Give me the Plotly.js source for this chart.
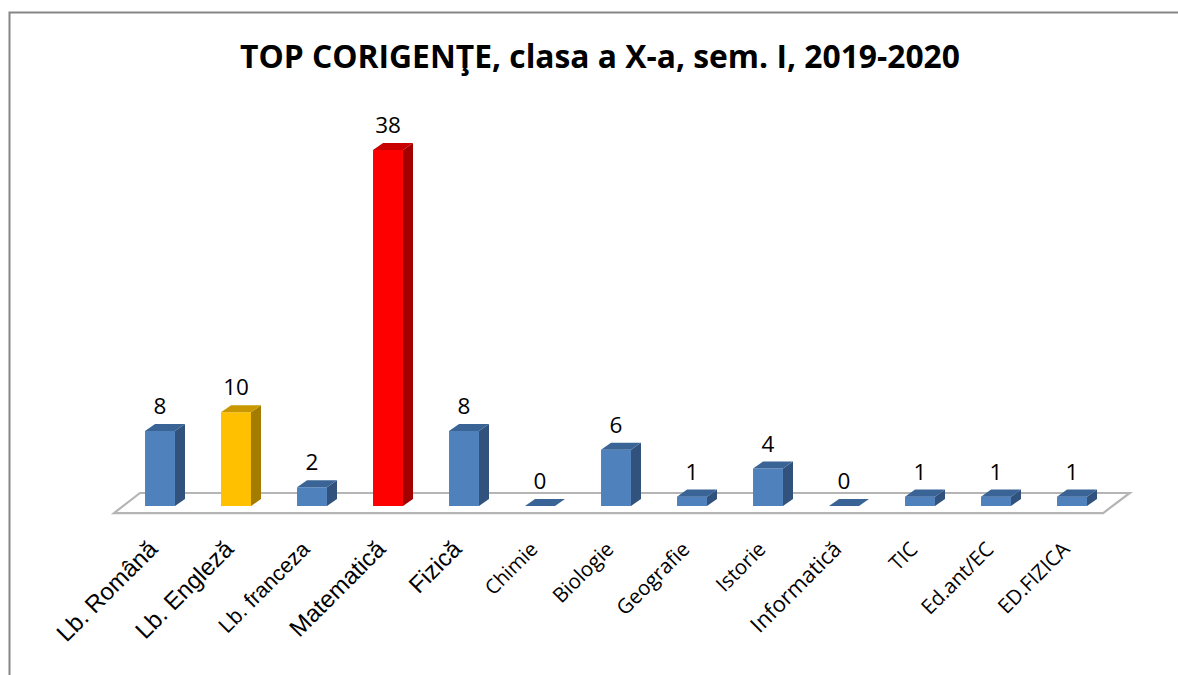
<!DOCTYPE html>
<html><head><meta charset="utf-8">
<script src="https://cdn.plot.ly/plotly-3.0.1.min.js"></script>
<style>html,body{margin:0;padding:0;background:#fff}#c{width:1178px;height:675px}</style>
</head><body><div id="c"></div>
<script>
const categories = ["Lb. Română","Lb. Engleză","Lb. franceza","Matematică","Fizică","Chimie","Biologie","Geografie","Istorie","Informatică","TIC","Ed.ant/EC","ED.FIZICA"];
const values = [8,10,2,38,8,0,6,1,4,0,1,1,1];
const titleText = "TOP CORIGENŢE, clasa a X-a, sem. I, 2019-2020";
const frontColors = ["#4F81BD","#FFC000","#4F81BD","#FF0000","#4F81BD","#4F81BD","#4F81BD","#4F81BD","#4F81BD","#4F81BD","#4F81BD","#4F81BD","#4F81BD"];
const topColors = frontColors.map(c => c==="#FFC000" ? "#C99700" : c==="#FF0000" ? "#C80000" : "#3A6496");
const sideColors = frontColors.map(c => c==="#FFC000" ? "#A37C00" : c==="#FF0000" ? "#A30000" : "#31527C");
const labelFonts = [
  ["Liberation Sans",24],["Liberation Sans",24],["Liberation Sans",21.5],["Liberation Sans",24],["Liberation Sans",24],
  ["Open Sans",20],["Open Sans",20.5],["Open Sans",20.5],["Open Sans",20.5],["Open Sans",22],["Open Sans",20.5],["Open Sans",20.5],["Open Sans",20.5]
];
const idx = categories.map((_,i)=>i);
const halfW = 0.197, depthX = 0.132, depthY = 0.75;
const traces = [];
// side and top faces
idx.forEach(i=>{
  const v=values[i],l=i-halfW,r=i+halfW;
  traces.push({type:"scatter",mode:"lines",x:[r,r+depthX,r+depthX,r,r],y:[0,depthY,v+depthY,v,0],fill:"toself",fillcolor:sideColors[i],line:{width:0,color:sideColors[i]},hoverinfo:"skip",showlegend:false});
  traces.push({type:"scatter",mode:"lines",x:[l,r,r+depthX,l+depthX,l],y:[v,v,v+depthY,v+depthY,v],fill:"toself",fillcolor:topColors[i],line:{width:0,color:topColors[i]},hoverinfo:"skip",showlegend:false});
});
// front faces
traces.push({type:"bar",x:idx,y:values,width:halfW*2,marker:{color:frontColors,line:{width:0}},showlegend:false});
// data labels
traces.push({type:"scatter",mode:"text",x:idx,y:values.map(v=>v+depthY+0.45),text:values.map(String),textposition:"top center",
  textfont:{family:"Open Sans",size:22.5,color:"#000"},cliponaxis:false,showlegend:false,hoverinfo:"skip"});
const W=1178,H=675,L=100,R=1140,T=100,B=535;
const px=x=>(x-L)/(R-L), py=y=>(B-y)/(B-T);
const layout={
  width:W,height:H,paper_bgcolor:"#fff",plot_bgcolor:"rgba(0,0,0,0)",showlegend:false,
  margin:{l:L,r:W-R,t:T,b:H-B,pad:0},
  title:{text:titleText,font:{family:"Open Sans",size:31.8,color:"#000",weight:700},x:600/W,xanchor:"center",y:1-57/H,yanchor:"middle"},
  xaxis:{range:[(L-160)/76,(R-160)/76],tickmode:"array",tickvals:idx,
    ticktext:categories.map((c,i)=>`<span style="font-family:'${labelFonts[i][0]}';font-size:${labelFonts[i][1]}px">${c}</span>`),
    tickangle:-45,ticks:"",showgrid:false,zeroline:false,showline:false,tickfont:{family:"Liberation Sans",size:17,color:"#000"},ticklabelshift:-7,automargin:false},
  yaxis:{range:[(506-B)/9.368,(506-T)/9.368],visible:false,showgrid:false,zeroline:false},
  shapes:[
    {type:"path",xref:"x",yref:"y",path:"M -0.605 -0.75 L -0.263 1.39 L 12.76 1.39 L 12.41 -0.75 Z",fillcolor:"#ffffff",line:{color:"#b5b5b5",width:2.2},layer:"below"},
    {type:"path",xref:"paper",yref:"paper",path:`M ${px(9.5)} ${py(675)} L ${px(9.5)} ${py(12.5)} L ${px(1178)} ${py(12.5)}`,line:{color:"#868686",width:2},layer:"below"}
  ]
};
Plotly.newPlot("c",traces,layout,{displayModeBar:false,staticPlot:true});
</script></body></html>
